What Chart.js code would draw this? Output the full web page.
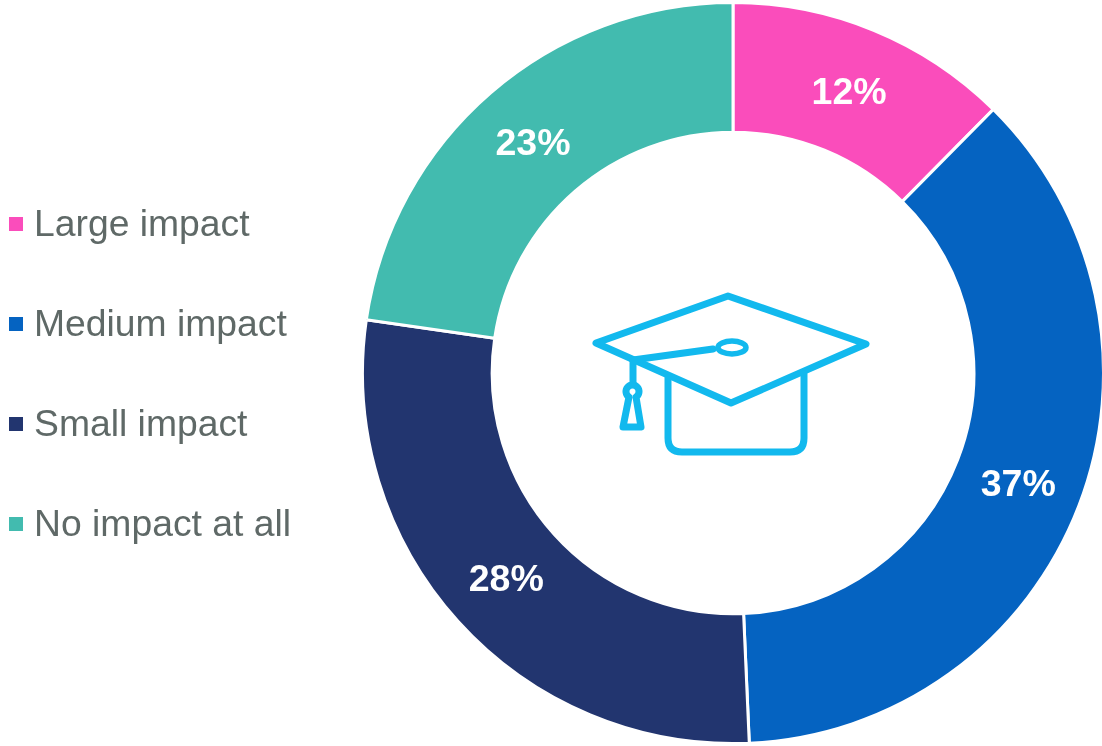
<!DOCTYPE html>
<html>
<head>
<meta charset="utf-8">
<style>
html,body{margin:0;padding:0;background:#fff;width:1102px;height:746px;overflow:hidden}
#wrap{position:relative;width:1102px;height:746px;overflow:hidden}
#c{position:absolute;left:0;top:0}
#cap{position:absolute;left:0;top:0;pointer-events:none}
</style>
<script src="https://cdn.jsdelivr.net/npm/chart.js@4"></script>
</head>
<body>
<div id="wrap">
<canvas id="c" width="1105" height="746"></canvas>
<svg id="cap" width="1102" height="746" fill="none" stroke="#12B9EE" stroke-width="7" stroke-linejoin="round" stroke-linecap="round">
  <path d="M728 296 L866 344 L731 403 L596 343 Z"/>
  <path d="M633 360 L713 349"/>
  <ellipse cx="732" cy="347.500" rx="14" ry="6.500" stroke-width="5.500"/>
  <path d="M633 360 L633 383"/>
  <path d="M629 397 A6.500 6.500 0 1 1 636 397 L641 427 L623 427 Z" stroke-width="7"/>
  <path d="M668 378 L668 438 Q668 452 682 452 L790 452 Q804 452 804 438 L804 374"/>
</svg>
</div>
<script>
const categories = ['Large impact', 'Medium impact', 'Small impact', 'No impact at all'];
const seriesValues = [12.4, 36.9, 28, 22.7];
const shownLabels = ['12%', '37%', '28%', '23%'];
const sliceColors = ['#FA4DBB', '#0563C1', '#22356F', '#42BBAF'];

const sliceLabels = {
  id: 'sliceLabels',
  afterDatasetsDraw(chart) {
    const ctx = chart.ctx;
    const arcs = chart.getDatasetMeta(0).data;
    ctx.save();
    ctx.font = 'bold 37.500px "Liberation Sans", Arial, sans-serif';
    ctx.fillStyle = '#FFFFFF';
    ctx.textAlign = 'center';
    ctx.textBaseline = 'middle';
    arcs.forEach((arc, i) => {
      const p = arc.tooltipPosition();
      ctx.fillText(shownLabels[i], p.x, p.y + 3);
    });
    ctx.restore();
  }
};

const sideLegend = {
  id: 'sideLegend',
  afterDraw(chart) {
    const ctx = chart.ctx;
    ctx.save();
    ctx.font = '37.300px "Liberation Sans", Arial, sans-serif';
    ctx.textBaseline = 'middle';
    ctx.textAlign = 'left';
    chart.data.labels.forEach((label, i) => {
      const y = 224 + i * 100;
      ctx.fillStyle = sliceColors[i];
      ctx.fillRect(9, y - 7, 14, 14);
      ctx.fillStyle = '#5F6967';
      ctx.fillText(label, 34, y + 2);
    });
    ctx.restore();
  }
};

new Chart(document.getElementById('c'), {
  type: 'doughnut',
  data: {
    labels: categories,
    datasets: [{
      data: seriesValues,
      backgroundColor: sliceColors,
      borderColor: '#FFFFFF',
      borderWidth: 3
    }]
  },
  options: {
    responsive: false,
    animation: false,
    cutout: '65%',
    layout: { padding: { left: 361, right: 0, top: 1, bottom: 1 } },
    plugins: { legend: { display: false }, tooltip: { enabled: false } }
  },
  plugins: [sliceLabels, sideLegend]
});
</script>
</body>
</html>
